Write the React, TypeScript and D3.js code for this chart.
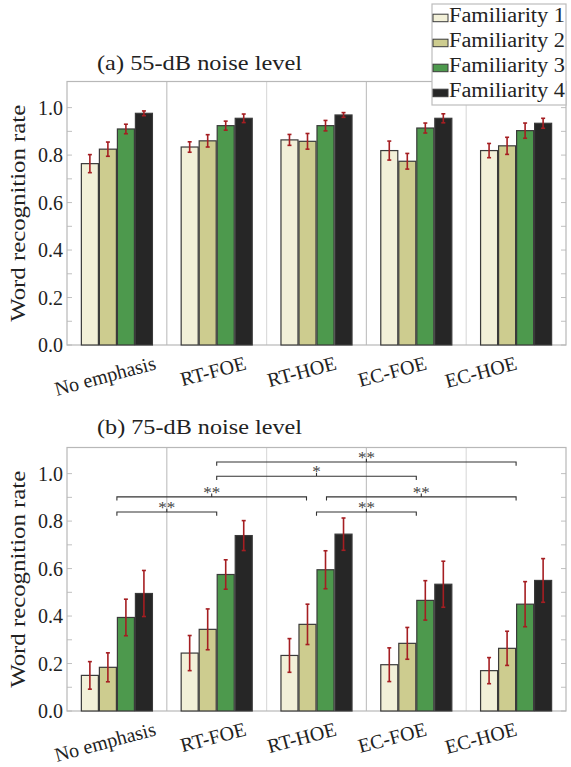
import React from 'react';
import * as d3 from 'd3';

const groups = ['No emphasis', 'RT-FOE', 'RT-HOE', 'EC-FOE', 'EC-HOE'];
const seriesNames = ['Familiarity 1', 'Familiarity 2', 'Familiarity 3', 'Familiarity 4'];
const seriesColors = ['#f2f0d8', '#cdcc8f', '#4d994d', '#262626'];
const yTicks = [0, 0.2, 0.4, 0.6, 0.8, 1.0];

// (a) 55 dB: one row per emphasis condition, one column per familiarity level
const mean55 = [
  [0.764, 0.825, 0.910, 0.976],
  [0.834, 0.860, 0.924, 0.955],
  [0.864, 0.858, 0.924, 0.969],
  [0.819, 0.774, 0.914, 0.955],
  [0.819, 0.839, 0.903, 0.934],
];
const err55 = [
  [0.038, 0.030, 0.020, 0.010],
  [0.022, 0.026, 0.019, 0.018],
  [0.023, 0.033, 0.022, 0.010],
  [0.040, 0.033, 0.021, 0.019],
  [0.030, 0.036, 0.032, 0.021],
];

// (b) 75 dB
const mean75 = [
  [0.150, 0.184, 0.394, 0.495],
  [0.244, 0.344, 0.575, 0.739],
  [0.234, 0.365, 0.595, 0.745],
  [0.195, 0.285, 0.466, 0.534],
  [0.170, 0.264, 0.450, 0.550],
];
const err75 = [
  [0.058, 0.061, 0.077, 0.097],
  [0.074, 0.086, 0.062, 0.063],
  [0.071, 0.085, 0.080, 0.068],
  [0.071, 0.067, 0.083, 0.097],
  [0.055, 0.072, 0.095, 0.092],
];

// significance brackets for (b)
const sigFrom = ['RT-FOE', 'RT-FOE', 'No emphasis', 'RT-HOE', 'No emphasis', 'RT-HOE'];
const sigTo = ['EC-HOE', 'EC-FOE', 'RT-HOE', 'EC-HOE', 'RT-FOE', 'EC-FOE'];
const sigLevel = [1.049, 0.989, 0.902, 0.902, 0.838, 0.838];
const sigLabel = ['**', '*', '**', '**', '**', '**'];

const W = 571;
const H = 767;
const LEFT = 67;
const RIGHT = 566;
const FONT = 'Liberation Serif';
const TXT = '#222';

const x0 = d3.scaleBand().domain(groups).range([LEFT, RIGHT]);
const x1 = d3.scaleBand().domain(seriesNames).range([0, x0.bandwidth()]).paddingOuter(0.77);
const xl = d3.scalePoint().domain(groups).range([LEFT + 90, RIGHT - 48]);
const minor = d3.range(0, 11).map(i => i / 10);

function Panel({ top, bottom, title, titleY, mean, err, sig }) {
  const y = d3.scaleLinear().domain([0, 1.11]).range([bottom, top]);
  const center = d => x0(d) + x0.bandwidth() / 2;
  const bw = x1.bandwidth();

  return (
    <g>
      {groups.slice(1).map((d, i) => (
        <line key={d} x1={x0(d)} x2={x0(d)} y1={top} y2={bottom}
          stroke={i % 2 === 0 ? '#c4c4c4' : '#dcdcdc'} strokeWidth={1.2} />
      ))}
      {minor.map(d => (
        <g key={d} stroke="#c0c0c0">
          <line x1={LEFT} x2={LEFT + 5} y1={y(d)} y2={y(d)} />
          <line x1={RIGHT} x2={RIGHT - 5} y1={y(d)} y2={y(d)} />
        </g>
      ))}
      <rect x={LEFT} y={top} width={RIGHT - LEFT} height={bottom - top}
        fill="none" stroke="#b8b8b8" strokeWidth={1.2} />

      {yTicks.map(d => (
        <text key={d} x={LEFT - 4} y={y(d)} dy="0.36em" textAnchor="end"
          fontSize={20} style={{ fontFamily: FONT }} fill={TXT}>{d3.format('.1f')(d)}</text>
      ))}

      {groups.map((gname, gi) => (
        <g key={gname} transform={'translate(' + x0(gname) + ',0)'}>
          {seriesNames.map((s, si) => {
            const v = mean[gi][si];
            return (
              <rect key={s} x={x1(s) + 0.5} width={bw - 1} y={y(v)} height={bottom - y(v)}
                fill={seriesColors[si]} stroke="#3a3a3a" strokeWidth={1.2} />
            );
          })}
          {seriesNames.map((s, si) => {
            const v = mean[gi][si];
            const e = err[gi][si];
            const cx = x1(s) + bw / 2;
            return (
              <g key={s} stroke="#a51e22" strokeWidth={1.6}>
                <line x1={cx} x2={cx} y1={y(v - e)} y2={y(v + e)} />
                <line x1={cx - 2} x2={cx + 2} y1={y(v - e)} y2={y(v - e)} />
                <line x1={cx - 2} x2={cx + 2} y1={y(v + e)} y2={y(v + e)} />
              </g>
            );
          })}
        </g>
      ))}

      {groups.map(d => (
        <text key={d} transform={'translate(' + xl(d) + ',' + (bottom + 24) + ') rotate(-15)'}
          textAnchor="end" fontSize={20} style={{ fontFamily: FONT }} fill={TXT}>{d}</text>
      ))}

      <text transform={'translate(25,' + (top + bottom) / 2 + ') rotate(-90)'} textAnchor="middle"
        textLength={217} lengthAdjust="spacingAndGlyphs"
        fontSize={22} style={{ fontFamily: FONT }} fill={TXT}>Word recognition rate</text>

      <text x={97} y={titleY} textLength={205} lengthAdjust="spacingAndGlyphs"
        fontSize={22} style={{ fontFamily: FONT }} fill={TXT}>{title}</text>

      {sig && sig.from.map((f, i) => {
        const t = sig.to[i];
        const lv = sig.level[i];
        // pull shared endpoints apart when two brackets sit on the same level
        const shared = name => sig.level.some((l, j) => j !== i && l === lv && (sig.from[j] === name || sig.to[j] === name));
        const xa = center(f) + (shared(f) ? 10 : 0);
        const xb = center(t) - (shared(t) ? 10 : 0);
        const yy = y(lv);
        const xm = (xa + xb) / 2;
        return (
          <g key={i}>
            <path d={'M' + xa + ',' + (yy + 3.7) + 'V' + yy + 'H' + xb + 'V' + (yy + 3.7) + 'M' + xm + ',' + yy + 'V' + (yy - 3.3)}
              fill="none" stroke="#333" strokeWidth={1.1} />
            <text x={xm} y={yy + 1} textAnchor="middle" fontSize={17}
              style={{ fontFamily: FONT }} fill="#444">{sigLabel[i]}</text>
          </g>
        );
      })}
    </g>
  );
}

function Legend() {
  return (
    <g>
      <rect x={432} y={4} width={134} height={101} fill="#fff" stroke="#bdbdbd" strokeWidth={1.2} />
      {seriesNames.map((d, i) => (
        <g key={d} transform={'translate(0,' + (21.7 + 25 * i) + ')'}>
          <rect x={433} y={-7.5} width={15} height={7.5} fill={seriesColors[i]} stroke="#3a3a3a" strokeWidth={1} />
          <text x={449} y={0} textLength={116} lengthAdjust="spacingAndGlyphs"
            fontSize={20} style={{ fontFamily: FONT }} fill={TXT}>{d}</text>
        </g>
      ))}
    </g>
  );
}

export default function App() {
  return (
    <svg width={W} height={H} style={{ position: 'absolute', left: 0, top: 0, display: 'block', background: '#fff', fontFamily: FONT }}>
      <Panel top={81.5} bottom={345} titleY={70} title="(a) 55-dB noise level"
        mean={mean55} err={err55} sig={null} />
      <Panel top={447.5} bottom={711} titleY={434} title="(b) 75-dB noise level"
        mean={mean75} err={err75} sig={{ from: sigFrom, to: sigTo, level: sigLevel }} />
      <Legend />
    </svg>
  );
}
